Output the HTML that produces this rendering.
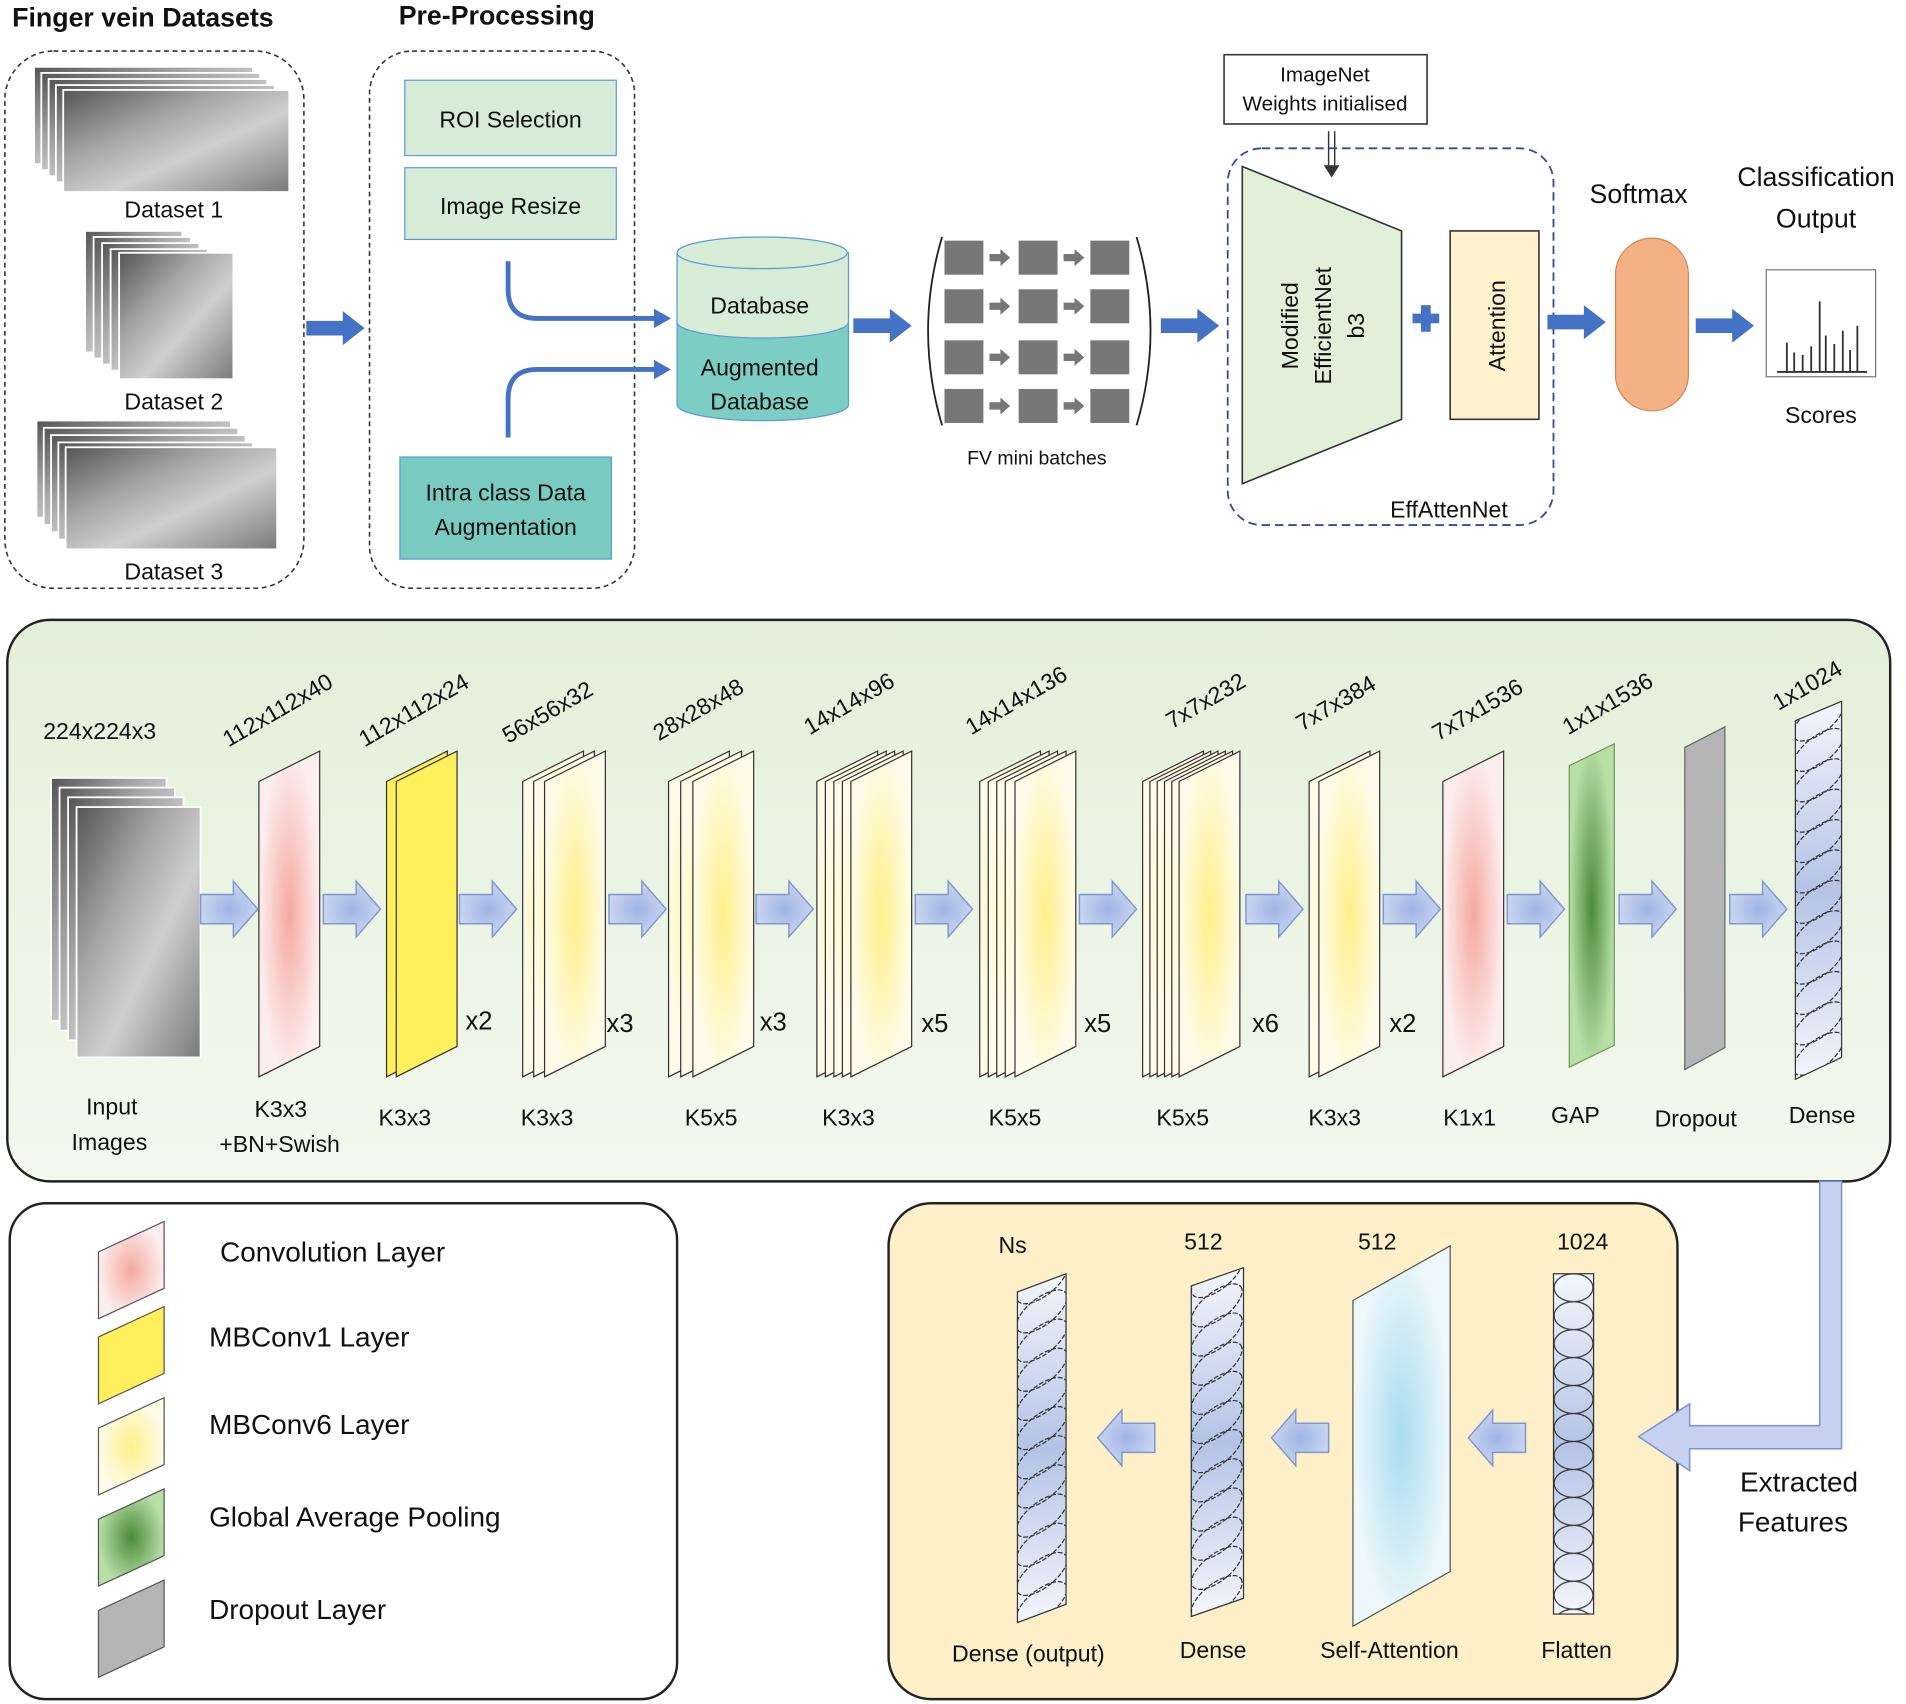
<!DOCTYPE html>
<html><head><meta charset="utf-8"><style>
html,body{margin:0;padding:0;background:#fff;}
svg{display:block;}
text{font-family:"Liberation Sans",sans-serif;fill:#111;}
</style></head><body>
<svg width="1906" height="1704" viewBox="0 0 1568 1402" preserveAspectRatio="none" xmlns="http://www.w3.org/2000/svg">
<defs>
<linearGradient id="img" x1="0" y1="0" x2="1" y2="1">
<stop offset="0" stop-color="#555"/><stop offset="0.35" stop-color="#a5a5a5"/><stop offset="0.6" stop-color="#cfcfcf"/><stop offset="1" stop-color="#7a7a7a"/></linearGradient>
<radialGradient id="pink"><stop offset="0" stop-color="#f4a9a0"/><stop offset="1" stop-color="#fdeeee"/></radialGradient>
<radialGradient id="yel"><stop offset="0" stop-color="#fff08a"/><stop offset="1" stop-color="#fffbe8"/></radialGradient>
<radialGradient id="green"><stop offset="0" stop-color="#4d8a3a"/><stop offset="1" stop-color="#b7dfa6"/></radialGradient>
<radialGradient id="blue"><stop offset="0" stop-color="#a8dcf0"/><stop offset="1" stop-color="#eef8fb"/></radialGradient>
<radialGradient id="arr"><stop offset="0" stop-color="#9fb3e4"/><stop offset="1" stop-color="#c9d5f0"/></radialGradient>
<linearGradient id="midbg" x1="0" y1="0" x2="0" y2="1"><stop offset="0" stop-color="#e3f0d9"/><stop offset="1" stop-color="#f3f8ee"/></linearGradient>
<linearGradient id="dens" x1="0" y1="0" x2="0" y2="1"><stop offset="0" stop-color="#f3f6fc"/><stop offset="0.5" stop-color="#b4c3e6"/><stop offset="1" stop-color="#f3f6fc"/></linearGradient>
<pattern id="circ" x="1278" y="1048" width="33" height="23" patternUnits="userSpaceOnUse"><ellipse cx="16.5" cy="11.5" rx="16" ry="11.5" fill="none" stroke="#333" stroke-width="1"/></pattern>
<clipPath id="c1"><path d="M1477,593 L1515,577 L1515,870 L1477,888 Z"/></clipPath>
<clipPath id="c2"><path d="M980,1058 L1023,1043 L1023,1315 L980,1330 Z"/></clipPath>
<clipPath id="c3"><path d="M837,1063 L877,1048 L877,1320 L837,1335 Z"/></clipPath>
<ellipse id="el" cx="0" cy="0" rx="25" ry="11" transform="rotate(-38)" fill="none" stroke="#333" stroke-width="1" stroke-dasharray="4 1.5"/>
<path id="ba" d="M0,-12 H27 V-23 L47,0 L27,23 V12 H0 Z" fill="url(#arr)" stroke="#7f96cf" stroke-width="1.2"/>
<path id="la" d="M0,-12 H-27 V-23 L-47,0 L-27,23 V12 H0 Z" fill="url(#arr)" stroke="#7f96cf" stroke-width="1.2"/>
<path id="da" d="M0,-6 H30 V-14 L48,0 L30,14 V6 H0 Z" fill="#4472c4"/>
<path id="sh" d="M0,25 L50,0 L50,243 L0,268 Z" stroke="#333" stroke-width="1"/>
<path id="sa" d="M0,-3 H9 V-7 L17,0 L9,7 V3 H0 Z" fill="#777"/>
</defs>

<text x="10" y="22" font-size="22" font-weight="bold">Finger vein Datasets</text>
<text x="328" y="20" font-size="22" font-weight="bold">Pre-Processing</text>

<rect x="4" y="42" width="246" height="442" rx="40" fill="none" stroke="#333" stroke-dasharray="4 3" stroke-width="1.3"/>
<g stroke="#fff" stroke-width="1.5" fill="url(#img)">
<rect x="28" y="55" width="180" height="80"/><rect x="34" y="60" width="180" height="80"/><rect x="40" y="65" width="180" height="80"/><rect x="46" y="70" width="180" height="80"/><rect x="52" y="74" width="186" height="84"/>
<rect x="70" y="190" width="80" height="100"/><rect x="77" y="195" width="80" height="100"/><rect x="84" y="200" width="80" height="100"/><rect x="91" y="205" width="80" height="100"/><rect x="98" y="208" width="94" height="104"/>
<rect x="30" y="346" width="160" height="80"/><rect x="36" y="352" width="160" height="80"/><rect x="42" y="358" width="160" height="80"/><rect x="48" y="364" width="160" height="80"/><rect x="54" y="368" width="174" height="84"/>
</g>
<text x="143" y="179" font-size="19" text-anchor="middle">Dataset 1</text>
<text x="143" y="337" font-size="19" text-anchor="middle">Dataset 2</text>
<text x="143" y="477" font-size="19" text-anchor="middle">Dataset 3</text>
<use href="#da" x="252" y="270"/>

<rect x="304" y="42" width="218" height="442" rx="35" fill="none" stroke="#333" stroke-dasharray="4 3" stroke-width="1.3"/>
<rect x="333" y="66" width="174" height="62" fill="#d6ecd6" stroke="#5b9bd5"/>
<text x="420" y="105" font-size="19" text-anchor="middle">ROI Selection</text>
<rect x="333" y="138" width="174" height="59" fill="#d6ecd6" stroke="#5b9bd5"/>
<text x="420" y="176" font-size="19" text-anchor="middle">Image Resize</text>
<rect x="329" y="376" width="174" height="84" fill="#79cbc2" stroke="#5b9bd5"/>
<text x="416" y="412" font-size="19" text-anchor="middle">Intra class Data</text>
<text x="416" y="440" font-size="19" text-anchor="middle">Augmentation</text>
<path d="M418,215 V238 Q418,262 442,262 H540" fill="none" stroke="#4472c4" stroke-width="4"/>
<path d="M538,254 L552,262 L538,270 Z" fill="#4472c4"/>
<path d="M418,360 V328 Q418,304 442,304 H540" fill="none" stroke="#4472c4" stroke-width="4"/>
<path d="M538,296 L552,304 L538,312 Z" fill="#4472c4"/>

<path d="M557,208 V333 A70,13 0 0 0 698,333 V208 Z" fill="#7ccdc4" stroke="#5b9bd5"/>
<path d="M557,208 V265 A70,13 0 0 0 698,265 V208 Z" fill="#d6ecd6" stroke="#5b9bd5"/>
<ellipse cx="627" cy="208" rx="70" ry="13" fill="#d6ecd6" stroke="#5b9bd5"/>
<text x="625" y="258" font-size="19" text-anchor="middle">Database</text>
<text x="625" y="309" font-size="19" text-anchor="middle">Augmented</text>
<text x="625" y="337" font-size="19" text-anchor="middle">Database</text>
<use href="#da" x="702" y="268"/>

<path d="M775,195 Q752,272 775,350" fill="none" stroke="#222" stroke-width="1.5"/>
<path d="M935,195 Q958,272 935,350" fill="none" stroke="#222" stroke-width="1.5"/>
<g fill="#777">
<rect x="777" y="198" width="32" height="28"/><rect x="838" y="198" width="32" height="28"/><rect x="897" y="198" width="32" height="28"/>
<rect x="777" y="238" width="32" height="28"/><rect x="838" y="238" width="32" height="28"/><rect x="897" y="238" width="32" height="28"/>
<rect x="777" y="280" width="32" height="28"/><rect x="838" y="280" width="32" height="28"/><rect x="897" y="280" width="32" height="28"/>
<rect x="777" y="320" width="32" height="28"/><rect x="838" y="320" width="32" height="28"/><rect x="897" y="320" width="32" height="28"/>
</g>
<use href="#sa" x="814" y="212"/><use href="#sa" x="875" y="212"/>
<use href="#sa" x="814" y="252"/><use href="#sa" x="875" y="252"/>
<use href="#sa" x="814" y="294"/><use href="#sa" x="875" y="294"/>
<use href="#sa" x="814" y="334"/><use href="#sa" x="875" y="334"/>
<text x="853" y="382" font-size="16" text-anchor="middle">FV mini batches</text>
<use href="#da" x="955" y="268"/>

<rect x="1007" y="45" width="167" height="57" fill="#fff" stroke="#333" stroke-width="1.3"/>
<text x="1090" y="67" font-size="17" text-anchor="middle">ImageNet</text>
<text x="1090" y="91" font-size="17" text-anchor="middle">Weights initialised</text>
<path d="M1093,108 V136 M1098,108 V136" stroke="#333" stroke-width="1.2"/>
<path d="M1089,136 L1102,136 L1095.5,146 Z" fill="#333"/>
<rect x="1010" y="122" width="268" height="310" rx="28" fill="none" stroke="#2f4f9a" stroke-dasharray="7 4" stroke-width="1.5"/>
<path d="M1022,137 L1153,190 L1153,345 L1022,398 Z" fill="#e2f0d9" stroke="#333" stroke-width="1.3"/>
<text transform="translate(1068,268) rotate(-90)" font-size="19" text-anchor="middle">Modified</text>
<text transform="translate(1095,268) rotate(-90)" font-size="19" text-anchor="middle">EfficientNet</text>
<text transform="translate(1122,268) rotate(-90)" font-size="19" text-anchor="middle">b3</text>
<path d="M1162,258 H1184 V266 H1162 Z M1169,251 H1177 V273 H1169 Z" fill="#4472c4"/>
<rect x="1193" y="190" width="73" height="155" fill="#fff2cc" stroke="#333" stroke-width="1.3"/>
<text transform="translate(1238,268) rotate(-90)" font-size="19" text-anchor="middle">Attention</text>
<text x="1192" y="426" font-size="19" text-anchor="middle">EffAttenNet</text>
<use href="#da" x="1273" y="265"/>
<text x="1348" y="167" font-size="22" text-anchor="middle">Softmax</text>
<rect x="1329" y="196" width="60" height="142" rx="30" fill="#f4b183" stroke="#c98a5a"/>
<use href="#da" x="1395" y="268"/>
<text x="1494" y="153" font-size="22" text-anchor="middle">Classification</text>
<text x="1494" y="187" font-size="22" text-anchor="middle">Output</text>
<rect x="1453" y="222" width="90" height="88" fill="#fff" stroke="#777"/>
<g stroke="#333" stroke-width="1.5">
<path d="M1462,306 H1536"/><path d="M1470,306 V282 M1476,306 V290 M1483,306 V292 M1490,306 V285 M1497,306 V248 M1502,306 V276 M1509,306 V283 M1516,306 V272 M1522,306 V288 M1528,306 V268"/></g>
<text x="1498" y="348" font-size="19" text-anchor="middle">Scores</text>

<rect x="6" y="510" width="1549" height="462" rx="35" fill="url(#midbg)" stroke="#222" stroke-width="2"/>
<g stroke="#fff" stroke-width="1.5" fill="url(#img)">
<rect x="42" y="640" width="95" height="200"/><rect x="49" y="648" width="95" height="200"/><rect x="56" y="656" width="95" height="200"/><rect x="63" y="664" width="102" height="206"/>
</g>
<text x="82" y="608" font-size="19" text-anchor="middle">224x224x3</text>
<text x="92" y="917" font-size="19" text-anchor="middle">Input</text>
<text x="90" y="946" font-size="19" text-anchor="middle">Images</text>

<g fill="url(#pink)"><use href="#sh" x="213" y="618"/></g>
<g fill="#ffef5a"><use href="#sh" x="318" y="618"/><use href="#sh" x="326" y="618"/></g>
<g fill="url(#yel)">
<use href="#sh" x="430" y="618"/><use href="#sh" x="439" y="618"/><use href="#sh" x="448" y="618"/>
<use href="#sh" x="550" y="618"/><use href="#sh" x="560" y="618"/><use href="#sh" x="570" y="618"/>
<use href="#sh" x="672" y="618"/><use href="#sh" x="679" y="618"/><use href="#sh" x="686" y="618"/><use href="#sh" x="693" y="618"/><use href="#sh" x="700" y="618"/>
<use href="#sh" x="806" y="618"/><use href="#sh" x="813" y="618"/><use href="#sh" x="820" y="618"/><use href="#sh" x="827" y="618"/><use href="#sh" x="835" y="618"/>
<use href="#sh" x="940" y="618"/><use href="#sh" x="946" y="618"/><use href="#sh" x="952" y="618"/><use href="#sh" x="958" y="618"/><use href="#sh" x="964" y="618"/><use href="#sh" x="970" y="618"/>
<use href="#sh" x="1077" y="618"/><use href="#sh" x="1085" y="618"/>
</g>
<g fill="url(#pink)"><use href="#sh" x="1187" y="618"/></g>
<path d="M1291,630 L1328,612 L1328,860 L1291,878 Z" fill="url(#green)" stroke="#6a9a55"/>
<path d="M1386,615 L1419,598 L1419,862 L1386,880 Z" fill="#b5b5b5" stroke="#666"/>

<path d="M1477,593 L1515,577 L1515,870 L1477,888 Z" fill="url(#dens)" stroke="#333"/>
<g clip-path="url(#c1)">
<use href="#el" x="1496" y="592"/><use href="#el" x="1496" y="617"/><use href="#el" x="1496" y="642"/><use href="#el" x="1496" y="667"/><use href="#el" x="1496" y="692"/><use href="#el" x="1496" y="717"/><use href="#el" x="1496" y="742"/><use href="#el" x="1496" y="767"/><use href="#el" x="1496" y="792"/><use href="#el" x="1496" y="817"/><use href="#el" x="1496" y="842"/><use href="#el" x="1496" y="867"/>
</g>

<g font-size="21">
<text x="383" y="847">x2</text><text x="499" y="849">x3</text><text x="625" y="848">x3</text><text x="758" y="849">x5</text><text x="892" y="849">x5</text><text x="1030" y="849">x6</text><text x="1143" y="849">x2</text>
</g>
<g font-size="19">
<text transform="translate(188,615) rotate(-30)">112x112x40</text>
<text transform="translate(300,615) rotate(-30)">112x112x24</text>
<text transform="translate(418,612) rotate(-30)">56x56x32</text>
<text transform="translate(542,610) rotate(-30)">28x28x48</text>
<text transform="translate(666,605) rotate(-30)">14x14x96</text>
<text transform="translate(799,605) rotate(-30)">14x14x136</text>
<text transform="translate(964,600) rotate(-30)">7x7x232</text>
<text transform="translate(1071,602) rotate(-30)">7x7x384</text>
<text transform="translate(1183,610) rotate(-30)">7x7x1536</text>
<text transform="translate(1290,605) rotate(-30)">1x1x1536</text>
<text transform="translate(1463,585) rotate(-30)">1x1024</text>
</g>
<g font-size="19" text-anchor="middle">
<text x="231" y="919">K3x3</text><text x="230" y="948">+BN+Swish</text>
<text x="333" y="926">K3x3</text><text x="450" y="926">K3x3</text><text x="585" y="926">K5x5</text><text x="698" y="926">K3x3</text>
<text x="835" y="926">K5x5</text><text x="973" y="926">K5x5</text><text x="1098" y="926">K3x3</text><text x="1209" y="926">K1x1</text>
<text x="1296" y="924">GAP</text><text x="1395" y="927">Dropout</text><text x="1499" y="924">Dense</text>
</g>
<use href="#ba" x="165" y="748"/><use href="#ba" x="266" y="748"/><use href="#ba" x="378" y="748"/><use href="#ba" x="501" y="748"/>
<use href="#ba" x="622" y="748"/><use href="#ba" x="753" y="748"/><use href="#ba" x="888" y="748"/><use href="#ba" x="1025" y="748"/>
<use href="#ba" x="1138" y="748"/><use href="#ba" x="1240" y="748"/><use href="#ba" x="1332" y="748"/><use href="#ba" x="1423" y="748"/>

<rect x="8" y="990" width="549" height="408" rx="30" fill="#fff" stroke="#222" stroke-width="2"/>
<path d="M81,1030 L135,1005 L135,1060 L81,1085 Z" fill="url(#pink)" stroke="#555"/>
<path d="M81,1100 L135,1075 L135,1130 L81,1155 Z" fill="#ffef5a" stroke="#555"/>
<path d="M81,1175 L135,1150 L135,1205 L81,1230 Z" fill="url(#yel)" stroke="#555"/>
<path d="M81,1250 L135,1225 L135,1280 L81,1305 Z" fill="url(#green)" stroke="#555"/>
<path d="M81,1325 L135,1300 L135,1355 L81,1380 Z" fill="#b5b5b5" stroke="#555"/>
<g font-size="23">
<text x="181" y="1038">Convolution Layer</text>
<text x="172" y="1108">MBConv1 Layer</text>
<text x="172" y="1180">MBConv6 Layer</text>
<text x="172" y="1256">Global Average Pooling</text>
<text x="172" y="1332">Dropout Layer</text>
</g>

<rect x="731" y="990" width="649" height="408" rx="35" fill="#fdf0c9" stroke="#222" stroke-width="2"/>
<rect x="1278" y="1048" width="33" height="280" fill="url(#dens)" stroke="#333"/>
<rect x="1278" y="1048" width="33" height="280" fill="url(#circ)"/>
<path d="M1113,1070 L1193,1025 L1193,1293 L1113,1338 Z" fill="url(#blue)" stroke="#555"/>
<path d="M980,1058 L1023,1043 L1023,1315 L980,1330 Z" fill="url(#dens)" stroke="#333"/>
<g clip-path="url(#c2)">
<use href="#el" x="1001" y="1050"/><use href="#el" x="1001" y="1074"/><use href="#el" x="1001" y="1098"/><use href="#el" x="1001" y="1122"/><use href="#el" x="1001" y="1146"/><use href="#el" x="1001" y="1170"/><use href="#el" x="1001" y="1194"/><use href="#el" x="1001" y="1218"/><use href="#el" x="1001" y="1242"/><use href="#el" x="1001" y="1266"/><use href="#el" x="1001" y="1290"/><use href="#el" x="1001" y="1314"/>
</g>
<path d="M837,1063 L877,1048 L877,1320 L837,1335 Z" fill="url(#dens)" stroke="#333"/>
<g clip-path="url(#c3)">
<use href="#el" x="857" y="1055"/><use href="#el" x="857" y="1079"/><use href="#el" x="857" y="1103"/><use href="#el" x="857" y="1127"/><use href="#el" x="857" y="1151"/><use href="#el" x="857" y="1175"/><use href="#el" x="857" y="1199"/><use href="#el" x="857" y="1223"/><use href="#el" x="857" y="1247"/><use href="#el" x="857" y="1271"/><use href="#el" x="857" y="1295"/><use href="#el" x="857" y="1319"/>
</g>
<use href="#la" x="1255" y="1183"/><use href="#la" x="1093" y="1183"/><use href="#la" x="950" y="1183"/>
<g font-size="19" text-anchor="middle">
<text x="833" y="1031">Ns</text><text x="990" y="1028">512</text><text x="1133" y="1028">512</text><text x="1302" y="1028">1024</text>
<text x="846" y="1367">Dense (output)</text><text x="998" y="1364">Dense</text><text x="1143" y="1364">Self-Attention</text><text x="1297" y="1364">Flatten</text>
</g>
<path d="M1497,972 H1515 V1192 H1390 V1210 L1348,1182 L1390,1155 V1173 H1497 Z" fill="#c6d2ef" stroke="#7f96cf" stroke-width="1.3"/>
<text x="1480" y="1227" font-size="23" text-anchor="middle">Extracted</text>
<text x="1475" y="1260" font-size="23" text-anchor="middle">Features</text>
</svg>
</body></html>
